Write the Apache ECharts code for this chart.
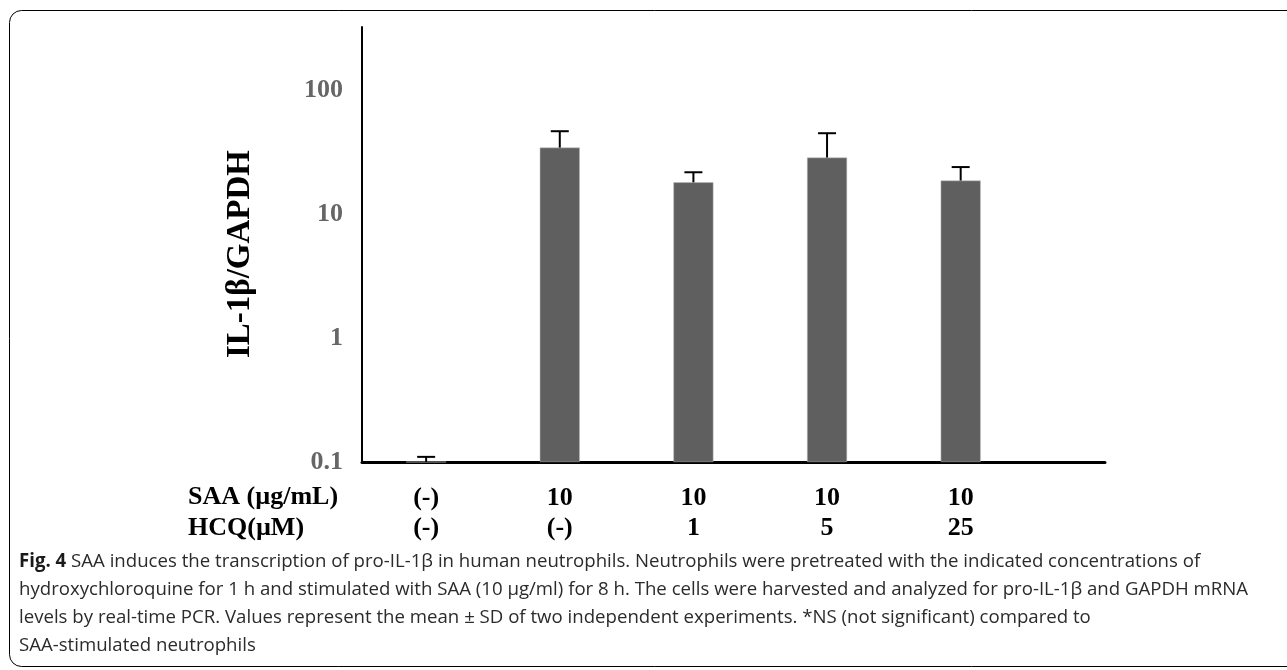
<!DOCTYPE html>
<html>
<head>
<meta charset="utf-8">
<script src="https://cdn.jsdelivr.net/npm/echarts@6/dist/echarts.min.js"></script>
<style>
  html, body { margin: 0; padding: 0; background: #fff; }
  #chart { width: 1287px; height: 670px; }
</style>
</head>
<body>
<div id="chart"></div>
<script>
// groups along the x axis
var saaLabels = ['(-)', '10', '10', '10', '10'];
var hcqLabels = ['(-)', '(-)', '1', '5', '25'];
// IL-1β/GAPDH mean and mean + SD
var means = [0.1, 34.3, 18.0, 28.5, 18.6];
var upper = [0.11, 46.5, 21.7, 44.8, 23.9];
var yTicks = [0.1, 1, 10, 100];

var captionLines = [
    'SAA induces the transcription of pro-IL-1β in human neutrophils. Neutrophils were pretreated with the indicated concentrations of',
    'hydroxychloroquine for 1 h and stimulated with SAA (10 µg/ml) for 8 h. The cells were harvested and analyzed for pro-IL-1β and GAPDH mRNA',
    'levels by real-time PCR. Values represent the mean ± SD of two independent experiments. *NS (not significant) compared to',
    'SAA-stimulated neutrophils'
];

var serif = '"Liberation Serif", "Times New Roman", serif';
var sans = '"Open Sans", "Noto Sans", sans-serif';

var chart = echarts.init(document.getElementById('chart'), null, { renderer: 'canvas' });

var barData = means.map(function (v, i) { return [i, v]; });
var errData = means.map(function (v, i) { return [i, v, upper[i]]; });

function renderErr(params, api) {
    var base = api.coord([api.value(0), api.value(1)]);
    var top = api.coord([api.value(0), api.value(2)]);
    var half = 9;
    return {
        type: 'group',
        children: [
            { type: 'line', shape: { x1: top[0], y1: base[1], x2: top[0], y2: top[1] },
              style: { stroke: '#000', lineWidth: 2 } },
            { type: 'line', shape: { x1: top[0] - half, y1: top[1], x2: top[0] + half, y2: top[1] },
              style: { stroke: '#000', lineWidth: 2 } }
        ]
    };
}

var captionGraphics = captionLines.map(function (t, i) {
    var txt = i === 0 ? '{b|Fig. 4} ' + t : t;
    return {
        type: 'text',
        x: 19,
        y: 562 + i * 27.7,
        scaleX: 0.98,
        style: {
            text: txt,
            font: '19px ' + sans,
            fill: '#2b2b2b',
            verticalAlign: 'middle',
            rich: {
                b: { fontWeight: 'bold', fontSize: 19, fontFamily: sans, fill: '#1a1a1a' }
            }
        }
    };
});

var option = {
    animation: false,
    backgroundColor: '#fff',
    grid: { left: 362, top: 27, right: 182, bottom: 208 },
    xAxis: {
        type: 'value',
        min: -0.48,
        max: 5.08,
        splitLine: { show: false },
        axisTick: { show: false },
        axisLine: { show: true, onZero: false, lineStyle: { color: '#000', width: 3 } },
        axisLabel: {
            customValues: [0, 1, 2, 3, 4],
            margin: 21,
            formatter: function (v) {
                var i = Math.round(v);
                return saaLabels[i] + '\n' + hcqLabels[i];
            },
            fontFamily: serif,
            fontWeight: 'bold',
            fontSize: 26,
            lineHeight: 30,
            color: '#000'
        }
    },
    yAxis: {
        type: 'log',
        logBase: 10,
        min: 0.1,
        max: 322,
        startValue: 0.1,
        splitLine: { show: false },
        axisTick: { show: false },
        axisLine: { show: true, onZero: false, lineStyle: { color: '#000', width: 2 } },
        axisLabel: {
            customValues: yTicks,
            margin: 19,
            formatter: function (v) { return String(v); },
            fontFamily: serif,
            fontWeight: 'bold',
            fontSize: 26,
            color: '#666'
        }
    },
    series: [
        {
            name: 'IL-1β/GAPDH',
            type: 'bar',
            data: barData,
            barWidth: 40,
            itemStyle: { color: '#5f5f5f', borderColor: '#bdbdbd', borderWidth: 0.5 },
            z: 2
        },
        {
            name: 'SD',
            type: 'custom',
            data: errData,
            renderItem: renderErr,
            z: 3
        }
    ],
    graphic: [
        {
            type: 'rect',
            shape: { x: 9.5, y: 10.5, width: 1400, height: 656, r: 12 },
            style: { fill: null, stroke: '#000', lineWidth: 1 },
            silent: true
        },
        {
            type: 'text',
            x: 240,
            y: 254,
            rotation: Math.PI / 2,
            style: {
                text: 'IL-1β/GAPDH',
                font: 'bold 33px ' + serif,
                fill: '#000',
                align: 'center',
                verticalAlign: 'middle'
            }
        },
        {
            type: 'text',
            left: 188,
            top: 484,
            style: { text: 'SAA (µg/mL)', font: 'bold 26px ' + serif, fill: '#000' }
        },
        {
            type: 'text',
            left: 188,
            top: 515,
            style: { text: 'HCQ(µM)', font: 'bold 26px ' + serif, fill: '#000' }
        }
    ].concat(captionGraphics)
};

chart.setOption(option);
</script>
</body>
</html>
